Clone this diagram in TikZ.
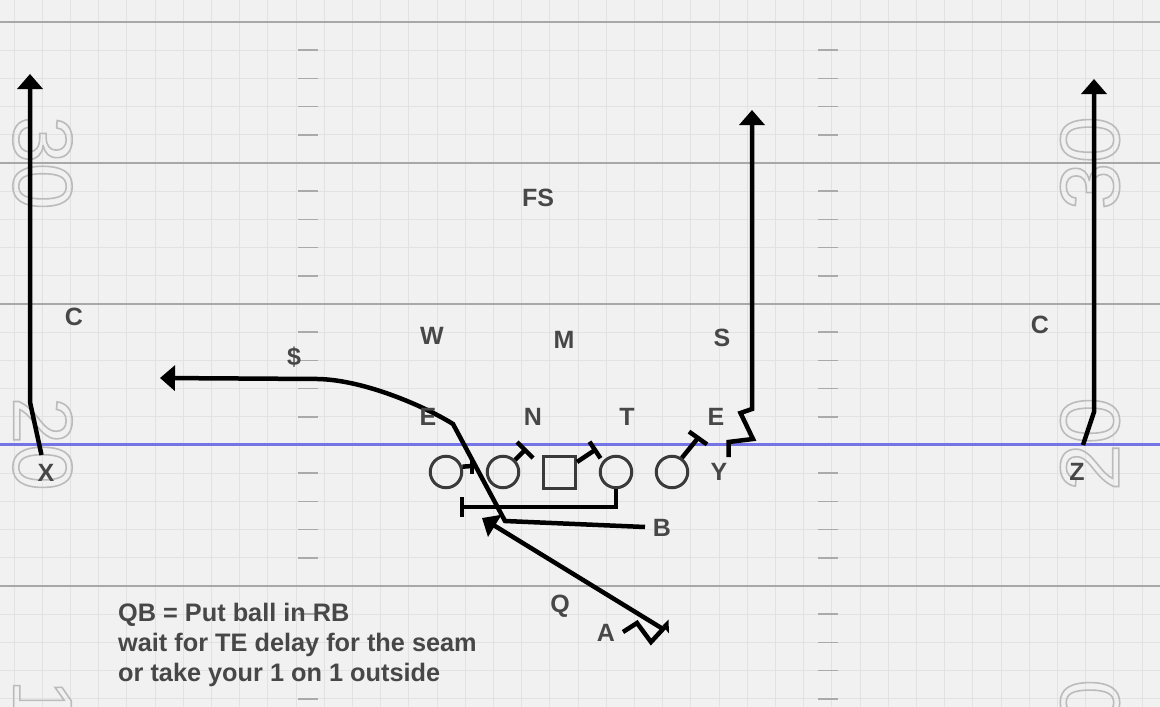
\documentclass[tikz,border=0pt]{standalone}
\usepackage{fontspec}
\setmainfont{Liberation Sans}
\usetikzlibrary{arrows.meta}
\definecolor{bg}{HTML}{F1F1F1}
\definecolor{gridc}{HTML}{E2E2E2}
\definecolor{yardc}{HTML}{A8A8A8}
\definecolor{hashc}{HTML}{AAAAAA}
\definecolor{losc}{HTML}{7474E6}
\definecolor{lbl}{HTML}{474747}
\definecolor{plc}{HTML}{3A3A3A}
\definecolor{numc}{HTML}{BBBBBB}
\newcommand\outlinetext[1]{\special{pdf:literal direct 1 Tr 1.6 w}#1\special{pdf:literal direct 0 Tr}}
\begin{document}
\begin{tikzpicture}[x=1pt,y=-1pt,
  lab/.style={text=lbl,font=\fontsize{25}{29}\selectfont\bfseries,inner sep=0pt},
  num/.style={text=numc,font=\fontsize{84}{84}\selectfont,inner sep=0pt},
  player/.style={circle,draw=plc,line width=3pt,minimum size=31.5pt,inner sep=0pt},
  cbox/.style={rectangle,draw=plc,line width=3pt,minimum size=32pt,inner sep=0pt},
  route/.style={draw=black,line width=4.5pt},
  arr/.style={-{Triangle[length=15pt,width=25pt]}},
  gridline/.style={draw=gridc,line width=1pt},
  yardline/.style={draw=yardc,line width=2.5pt},
  hashline/.style={draw=hashc,line width=1.5pt},
]
\useasboundingbox (0,0) rectangle (1160,707);
\fill[bg] (0,0) rectangle (1160,707);
% grid
\foreach \i in {0,...,40} \draw[gridline] ({14+28.2*\i},0) -- ({14+28.2*\i},707);
\foreach \k in {0,...,24} \draw[gridline] (0,{22+28.2*\k}) -- (1160,{22+28.2*\k});
% yard lines
\foreach \k in {0,5,10,15,20} \draw[yardline] (0,{22+28.2*\k}) -- (1160,{22+28.2*\k});
% hash marks
\foreach \k in {1,2,3,4,6,7,8,9,11,12,13,14,16,17,18,19,21,22,23,24}{
  \draw[hashline] (298,{22+28.2*\k}) -- (318,{22+28.2*\k});
  \draw[hashline] (818,{22+28.2*\k}) -- (838,{22+28.2*\k});
}
% yard numbers
\node[num,rotate=-90] (n30l) at (42.5,163) {\outlinetext{30}};
\node[num,rotate=-90] (n20l) at (42.5,444) {\outlinetext{20}};
\node[num,rotate=-90] (n10l) at (42.5,726) {\outlinetext{10}};
\node[num,rotate=90] (n30r) at (1090,163) {\outlinetext{30}};
\node[num,rotate=90] (n20r) at (1090,444) {\outlinetext{20}};
\node[num,rotate=90] (n10r) at (1090,726) {\outlinetext{10}};
% line of scrimmage
\draw[draw=losc,line width=3pt] (0,444) -- (1160,444);
% offensive line
\node[player] (lt) at (446,472) {};
\node[player] (lg) at (503,472) {};
\node[cbox] (c) at (559.5,472) {};
\node[player] (rg) at (616,472) {};
\node[player] (rt) at (672,472) {};
% blocks
\coordinate (ltb) at (472,466);
\draw[route] (lt.18) -- (ltb);
\draw[route] (472,458) -- (472,474);
\coordinate (lgb) at (525,450);
\draw[route] (lg.45) -- (lgb);
\draw[route] (517,442) -- (533,458);
\coordinate (cb) at (595,450);
\draw[route] ([yshift=10pt]c.east) -- (cb);
\draw[route] (589.5,441.7) -- (600.5,458.3);
\coordinate (rgb1) at (616,507);
\coordinate (rgb2) at (462,507);
\draw[route] (rg.south) -- (rgb1) -- (rgb2);
\draw[route] (462,497) -- (462,517);
\coordinate (rtb) at (698,438);
\draw[route] (rt.55) -- (rtb);
\draw[route] (689,431.6) -- (707,444.4);
% Y route
\coordinate (y0) at (728.5,457);
\coordinate (y1) at (728.5,442);
\coordinate (y2) at (753,439);
\coordinate (y3) at (740.5,413);
\coordinate (y4) at (752,409);
\coordinate (y5) at (752,110);
\draw[route,arr] (y0) -- (y1) -- (y2) -- (y3) -- (y4) -- (y5);
% X route
\coordinate (x0) at (41.5,455);
\coordinate (x1) at (30,402);
\coordinate (x2) at (30,74);
\draw[route,arr] (x0) -- (x1) -- (x2);
% Z route
\coordinate (z0) at (1083,445);
\coordinate (z1) at (1094,412);
\coordinate (z2) at (1094,79);
\draw[route,arr] (z0) -- (z1) -- (z2);
% B route
\coordinate (b0) at (645,527);
\coordinate (b1) at (505,521);
\coordinate (b2) at (453,424);
\coordinate (b3) at (318,379);
\coordinate (b4) at (160,378);
\draw[route,arr] (b0) -- (b1) -- (b2) .. controls (426,407) and (365,380) .. (b3) -- (b4);
% A route
\coordinate (a0) at (623,632);
\coordinate (a1) at (637,623);
\coordinate (a2) at (651,642);
\coordinate (a3) at (663,629);
\coordinate (a4) at (482,518);
\draw[route,arr] (a0) -- (a1) -- (a2) -- (a3) -- (a4);
\fill[black] (662.5,625.5) -- (668.5,619.5) -- (669,633.5) -- cycle;
% labels
\node[lab] (fs) at (538,198) {FS};
\node[lab] (cl) at (74,317) {C};
\node[lab] (w) at (432,336) {W};
\node[lab] (m) at (564,340) {M};
\node[lab] (s) at (722,338) {S};
\node[lab] (cr) at (1040,325) {C};
\node[lab] (dollar) at (294,357) {\$};
\node[lab] (el) at (428,417) {E};
\node[lab] (n) at (533,417) {N};
\node[lab] (t) at (627,417) {T};
\node[lab] (er) at (716,417) {E};
\node[lab] (xl) at (46,473) {X};
\node[lab] (yl) at (719,472) {Y};
\node[lab] (zl) at (1077,472) {Z};
\node[lab] (bl) at (662,528) {B};
\node[lab] (ql) at (560,606) {Q};
\node[lab] (al) at (606,633) {A};
\node[lab,anchor=north west,align=left,font=\fontsize{25.3}{30}\selectfont\bfseries] (note) at (118,603)
  {QB = Put ball in RB\\wait for TE delay for the seam\\or take your 1 on 1 outside};
\end{tikzpicture}
\end{document}
